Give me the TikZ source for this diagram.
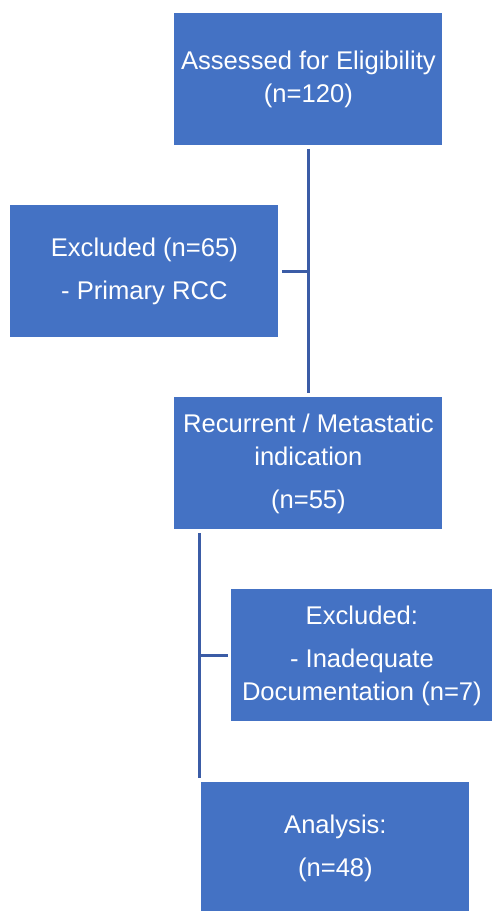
\documentclass[tikz,border=0pt]{standalone}
\usepackage{fontspec}
\setmainfont{Liberation Sans}
\usepackage{xcolor}
\usetikzlibrary{positioning,calc}
\definecolor{boxblue}{HTML}{4472C4}
\definecolor{lineblue}{HTML}{3B5CA6}

\begin{document}
\begin{tikzpicture}[x=0.5pt, y=-0.5pt,
        flowbox/.style={fill=boxblue, draw=none, text=white, align=center,
            inner sep=0pt, anchor=north west,
            font=\fontsize{12.8}{16.5}\selectfont},
        link/.style={draw=lineblue, line width=1.5pt}]
    \useasboundingbox (0, 0) rectangle (495, 911);
    \node[flowbox, minimum width=134pt, minimum height=66pt] (assessed) at (174, 13)
        {Assessed for Eligibility\\(n=120)};
    \node[flowbox, minimum width=134pt, minimum height=66pt] (excludedA) at (10, 205)
        {Excluded (n=65)\\[5pt]- Primary RCC};
    \node[flowbox, minimum width=134pt, minimum height=66pt] (recurrent) at (174, 397)
        {Recurrent / Metastatic\\indication\\[5pt](n=55)};
    \node[flowbox, minimum width=130.5pt, minimum height=66pt] (excludedB) at (231, 589)
        {Excluded:\\[5pt]- Inadequate\\Documentation (n=7)};
    \node[flowbox, minimum width=134pt, minimum height=66pt] (analysis) at (201, 782)
        {Analysis:\\[5pt](n=48)};
    % first split
    \draw[link, shorten <=1.5pt, shorten >=2pt] (assessed.south) -- (recurrent.north);
    \coordinate (joinA) at (assessed.south |- excludedA.east);
    \draw[link, shorten <=1.5pt] (excludedA.east) -- (joinA);
    % second split
    \coordinate (topB) at (199, 529);
    \coordinate (endB) at (199, 782);
    \draw[link, shorten <=2pt, shorten >=2pt] (topB) -- (endB);
    \coordinate (joinB) at (topB |- excludedB.west);
    \draw[link, shorten >=1.5pt] (joinB) -- (excludedB.west);
\end{tikzpicture}
\end{document}
